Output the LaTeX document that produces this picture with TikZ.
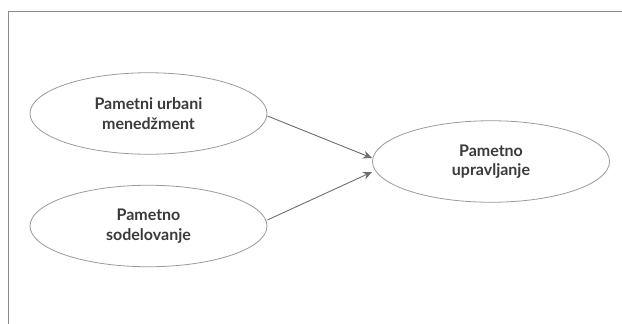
\documentclass[tikz,border=0pt]{standalone}
\usepackage{fontspec}
\setmainfont{Lato}[UprightFont=* Bold]
\usetikzlibrary{arrows.meta,shapes.geometric}
\definecolor{framegray}{HTML}{8A8A8A}
\definecolor{edgegray}{HTML}{9A9A9A}
\definecolor{arrowgray}{HTML}{6E6E6E}
\definecolor{textgray}{HTML}{3A3A3A}
\tikzset{
  bubble/.style={draw=edgegray, line width=0.8pt, ellipse, minimum width=237pt, minimum height=81.5pt,
    inner sep=0pt, align=center, text=textgray, font=\fontsize{16}{19.5}\selectfont},
  link/.style={draw=arrowgray, line width=0.9pt, -{Stealth[length=9pt,width=8pt]}},
}
\begin{document}
\begin{tikzpicture}[x=1pt,y=-1pt]
\useasboundingbox (0,0) rectangle (622,324);
\coordinate (ftop) at (622,11.5);
\coordinate (fcorner) at (8.5,11.5);
\coordinate (fbot) at (8.5,324);
\draw[framegray, line width=1.2pt] (ftop) -- (fcorner) -- (fbot);
\node[bubble] (pum) at (148.5,113.5) {Pametni urbani\\menedžment};
\node[bubble] (ps) at (148.5,226) {Pametno\\sodelovanje};
\node[bubble] (pu) at (491,161.5) {Pametno\\upravljanje};
\coordinate (t1) at (372,158);
\coordinate (t2) at (372,172);
\draw[link] (pum.east |- 0,116) -- (t1);
\draw[link] (ps.east |- 0,220) -- (t2);
\end{tikzpicture}
\end{document}
